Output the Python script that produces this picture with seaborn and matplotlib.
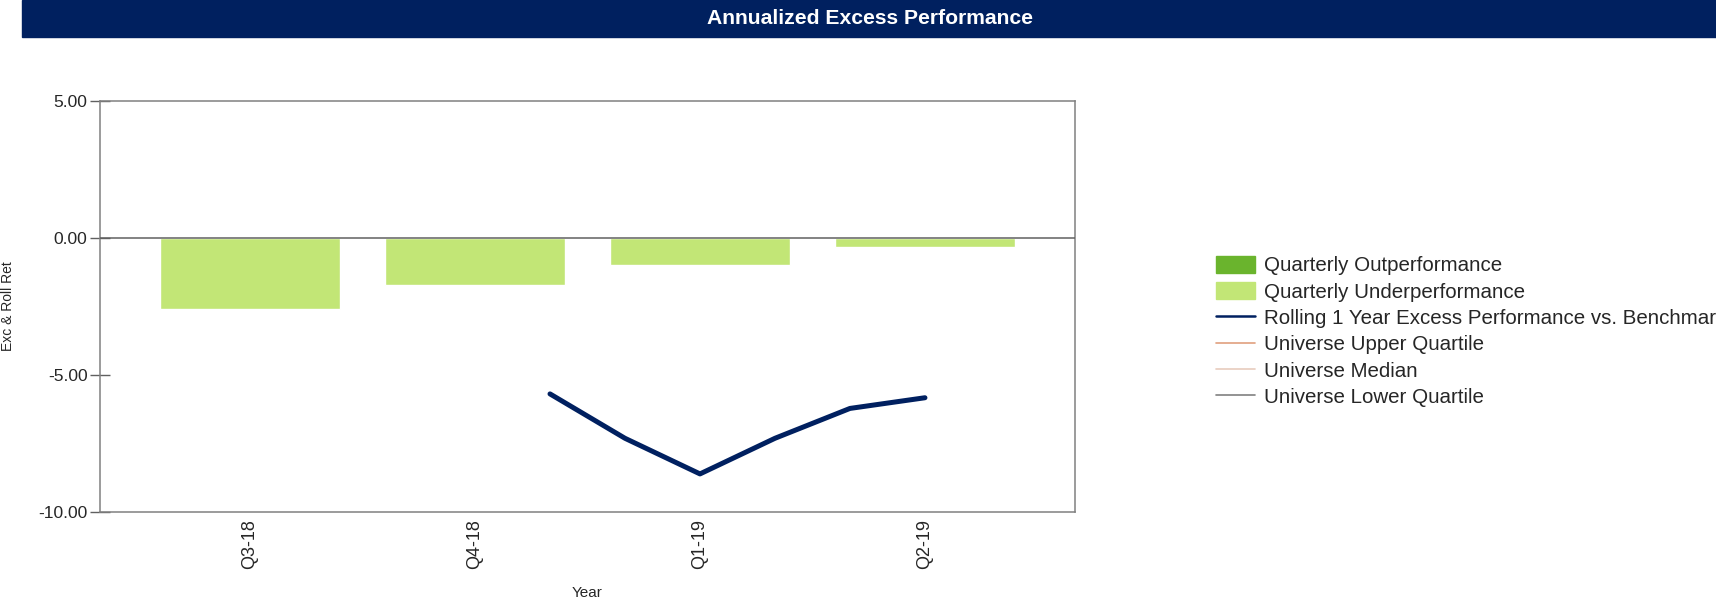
import matplotlib
matplotlib.use("Agg")
import matplotlib.pyplot as plt
import seaborn as sns
import pandas as pd
from matplotlib.patches import Patch, Rectangle
from matplotlib.lines import Line2D
from matplotlib.ticker import FixedLocator, FormatStrFormatter

# ---- data ----
quarters = ["Q3-18", "Q4-18", "Q1-19", "Q2-19"]
quarterly_excess = [-2.59, -1.73, -1.0, -0.32]
# rolling 1-year excess, monthly points expressed in quarter-index units
rolling_pos = [4/3, 5/3, 2.0, 7/3, 8/3, 3.0]
rolling_vals = [-5.69, -7.31, -8.61, -7.31, -6.22, -5.83]
y_ticks = [5, 0, -5, -10]
legend_labels = ["Quarterly Outperformance", "Quarterly Underperformance",
                 "Rolling 1 Year Excess Performance vs. Benchmark",
                 "Universe Upper Quartile", "Universe Median", "Universe Lower Quartile"]

# ---- style ----
sns.set_style("white")
plt.rcParams["font.family"] = ["Liberation Sans", "DejaVu Sans"]

W, H = 1716, 603
fig = plt.figure(figsize=(W / 100, H / 100), dpi=100)
ax = fig.add_axes([100 / W, 1 - 512 / H, (1075 - 100) / W, (512 - 101) / H])

OUT_C = "#6AB42D"
UNDER_C = "#C2E676"
NAVY = "#002060"

df = pd.DataFrame({"q": quarters, "v": quarterly_excess})
sns.barplot(data=df, x="q", y="v", ax=ax, color=UNDER_C, width=0.8,
            saturation=1, order=quarters, zorder=2)
sns.lineplot(x=rolling_pos, y=rolling_vals, ax=ax, color=NAVY, lw=3.6,
             zorder=3, solid_joinstyle="round", solid_capstyle="round")

ax.axhline(0, color="#606060", lw=1.1, zorder=4)
ax.set_xlim(-0.667, 3.667)
ax.set_ylim(-10, 5)
ax.yaxis.set_major_locator(FixedLocator(y_ticks))
ax.yaxis.set_major_formatter(FormatStrFormatter("%.2f"))
ax.tick_params(axis="y", direction="inout", length=14, width=1, color="#606060",
               labelsize=12.6, pad=2, left=True)
ax.tick_params(axis="x", length=0, labelsize=13, pad=5)
for lbl in ax.get_xticklabels():
    lbl.set_rotation(90)
for s in ax.spines.values():
    s.set_visible(True)
    s.set_color("#808080")
    s.set_linewidth(1.1)
ax.set_xlabel("")
ax.set_ylabel("")

fig.text(8 / W, 1 - 306 / H, "Exc & Roll Ret", rotation=90, ha="center",
         va="center", fontsize=10)
fig.text(587 / W, 1 - 593 / H, "Year", ha="center", va="center", fontsize=11)

# title bar
fig.patches.append(Rectangle((22 / W, 1 - 37 / H), 1 - 22 / W, 37 / H,
                             transform=fig.transFigure, color="#00205F", zorder=0))
fig.text(870 / W, 1 - 18 / H, "Annualized Excess Performance", color="white",
         ha="center", va="center", fontsize=15.2, fontweight="bold")

handles = [Patch(facecolor=OUT_C, edgecolor=OUT_C),
           Patch(facecolor=UNDER_C, edgecolor=UNDER_C),
           Line2D([], [], color=NAVY, lw=1.8),
           Line2D([], [], color="#E0A07E", lw=1.2),
           Line2D([], [], color="#E8CCBE", lw=1.2),
           Line2D([], [], color="#808080", lw=1.2)]
fig.legend(handles, legend_labels, loc="upper left",
           bbox_to_anchor=(1216 / W, 1 - 256 / H), frameon=False,
           fontsize=14.8, handlelength=1.9, handleheight=0.88,
           handletextpad=0.45, labelspacing=0.33, borderaxespad=0, borderpad=0)

fig.savefig("out.png", dpi=100)
